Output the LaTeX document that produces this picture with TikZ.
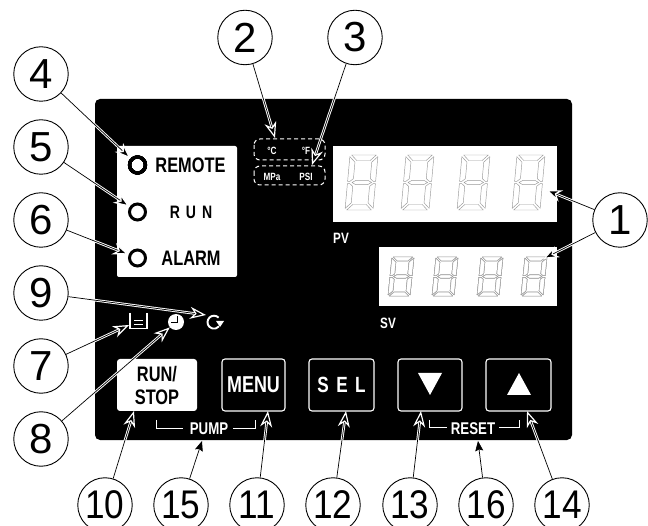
\documentclass[tikz,border=0pt]{standalone}
\usepackage{fontspec}
\setmainfont{Liberation Sans}
\newfontfamily\panelfont[FakeStretch=0.78]{Liberation Sans}
\newfontfamily\widefont[FakeStretch=0.88]{Liberation Sans}
\usetikzlibrary{arrows.meta}
\tikzset{
  callnum/.style={circle,draw,line width=.9pt,minimum size=54.5pt,inner sep=0pt,font=\fontsize{42}{42}\selectfont},
  callwide/.style={callnum,font=\widefont\fontsize{40}{40}\selectfont},
  callout/.style={line width=.7pt,-{Stealth[length=16pt,width=12pt,inset=5pt,fill=black,color=white,line width=1.2pt]},
    preaction={draw=white,line width=2.6pt,-,shorten >=10pt,shorten <=2pt}},
  plainout/.style={line width=.7pt,-{Stealth[length=10pt,width=8pt,inset=1.5pt]}},
  lamp/.style={circle,draw=black,line width=3pt,minimum size=16pt,inner sep=0pt},
  keybox/.style={draw=white,line width=1.1pt,rounded corners=3pt,text=white,inner sep=0pt,align=center},
  paneltext/.style={font=\panelfont\bfseries\fontsize{#1}{#1}\selectfont},
  paneltext/.default=15,
  unitbox/.style={draw=white,line width=1pt,dash pattern=on 4pt off 3pt,rounded corners=6pt},
  bracket/.style={draw=white,line width=1pt},
  seg/.style={draw=black!40,line width=.45pt,fill=white,line join=round}
}
\newcommand{\segdigit}[5]{%
  \begin{scope}[shift={(#1,#2)},x={(#3pt,0pt)},y={(#5pt,#4pt)}]
    \foreach \p in {
      {(.06,0)--(.94,0)--(.74,.2)--(.26,.2)},
      {(.06,2)--(.94,2)--(.74,1.8)--(.26,1.8)},
      {(.16,1)--(.3,.92)--(.72,.92)--(.86,1)--(.72,1.08)--(.3,1.08)},
      {(0,.06)--(.2,.26)--(.2,.86)--(.08,.96)--(0,.96)},
      {(1,.06)--(.8,.26)--(.8,.86)--(.92,.96)--(1,.96)},
      {(0,1.94)--(.2,1.74)--(.2,1.14)--(.08,1.04)--(0,1.04)},
      {(1,1.94)--(.8,1.74)--(.8,1.14)--(.92,1.04)--(1,1.04)}}
      \draw[seg] \p--cycle;
  \end{scope}}
\begin{document}
\begin{tikzpicture}[x=1pt,y=-1pt]
  \useasboundingbox (0,0) rectangle (648,526);
  \fill[black,rounded corners=5pt] (95,99) rectangle (572,440);
  \fill[white,rounded corners=2pt] (117,146) rectangle (237,277);
  \fill[white] (333,146) rectangle (557,222);
  \fill[white] (379,247) rectangle (557,306);
  \foreach \x in {345,401,457,512} \segdigit{\x}{210}{28}{27.5}{2.5}
  \foreach \x in {388,432,477,521} \segdigit{\x}{296}{22}{19.5}{2}
  \node[lamp] (ledremote) at (137.5,165) {};
  \node[lamp] (ledrun) at (137.5,212) {};
  \node[lamp] (ledalarm) at (137.5,258) {};
  \node[paneltext=21] (remote) at (190.5,165) {REMOTE};
  \node[paneltext=18] (run) at (191,212) {R\,\,U\,\,N};
  \node[paneltext=21] (alarm) at (191,258) {ALARM};
  \draw[unitbox] (254,139) rectangle (325,160);
  \draw[unitbox] (254,166) rectangle (325,185);
  \foreach \x/\y/\t in {272/151/°C,306/151/°F,272/177/MPa,306/177/PSI}
    \node[paneltext=10.5,text=white] at (\x,\y) {\t};
  \node[paneltext=15,text=white] (pv) at (341,238) {PV};
  \node[paneltext=15,text=white] (sv) at (388,323) {SV};
  \draw[white,line width=1.2pt] (130,313) -- (130,328.5) -- (147,328.5) -- (147,313);
  \draw[white,line width=1pt] (134,321) -- (143,321) (134,325) -- (143,325);
  \coordinate (tank) at (129,325);
  \node[circle,fill=white,minimum size=16pt,inner sep=0pt] (clock) at (176,322) {};
  \draw[black,line width=1pt] (clock.center) ++(1,1) -- ++(0,-7) ++(0,7) -- ++(-6,0);
  \draw[white,line width=1.9pt] (218.6,317.6) arc[start angle=45,end angle=320,radius=6.5pt];
  \fill[white] (216,321) -- (224,321) -- (220,327) -- cycle;
  \coordinate (refresh) at (206,315);
  \node[fill=white,rounded corners=3pt,minimum width=80pt,minimum height=52pt,inner sep=0pt,
    font=\panelfont\bfseries\fontsize{21}{23}\selectfont,align=center] (runstop) at (157,385) {RUN/\\STOP};
  \node[keybox,minimum width=63pt,minimum height=52pt,font=\panelfont\bfseries\fontsize{23}{23}\selectfont] (menu) at (253.5,385) {MENU};
  \node[keybox,minimum width=65pt,minimum height=52pt,font=\panelfont\bfseries\fontsize{22}{22}\selectfont] (sel) at (341.5,385) {S\,\,E\,\,L};
  \node[keybox,minimum width=64pt,minimum height=52pt] (down) at (430,385) {};
  \node[keybox,minimum width=65pt,minimum height=52pt] (up) at (518.5,385) {};
  \fill[white] (418,373) -- (442,373) -- (430,395) -- cycle;
  \fill[white] (507,395) -- (531,395) -- (519,373) -- cycle;
  \node[paneltext=17,text=white] (pump) at (209,429) {PUMP};
  \node[paneltext=17,text=white] (reset) at (473,429) {RESET};
  \draw[bracket] (156,420) -- (156,429) -- (183,429);
  \draw[bracket] (233,429) -- (255,429) -- (255,420);
  \draw[bracket] (429,420) -- (429,428) -- (447,428);
  \draw[bracket] (499,428) -- (519,428) -- (519,420);
  \foreach \n/\x/\y in {4/41/74,5/41/147,6/41/220,9/41/293,7/41/366,8/41/439,2/245/37.5,3/355/37.5,1/620/220}
    \node[callnum] (c\n) at (\x,\y) {\n};
  \foreach \n/\x in {10/105,15/181,11/257,12/333,13/410,16/486,14/562}
    \node[callwide] (c\n) at (\x,505) {\n};
  \foreach \n/\x/\y in {t1a/546/190,t1b/543/259,t2/275/138,t3/312/165,t10/134/411,t15/202/441,t11/268/411,t12/346/411,t13/421/411,t14/527/411,t16/478/441}
    \coordinate (\n) at (\x,\y);
  \foreach \a/\b in {c4/ledremote,c5/ledrun,c6/ledalarm,c9/refresh,c7/tank,c8/clock,c1/t1a,c1/t1b,c2/t2,c3/t3,c10/t10,c11/t11,c12/t12,c13/t13,c14/t14}
    \draw[callout] (\a) -- (\b);
  \draw[plainout] (c15) -- (t15);
  \draw[plainout] (c16) -- (t16);
\end{tikzpicture}
\end{document}
